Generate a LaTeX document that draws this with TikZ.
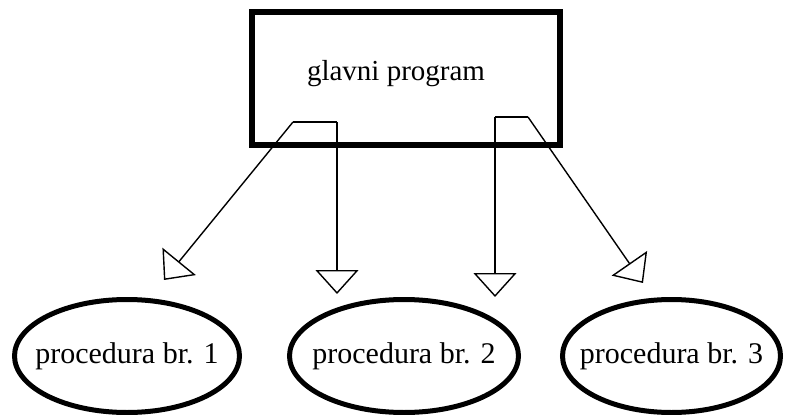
\documentclass[tikz,border=0pt]{standalone}
\usepackage{fontspec}
\setmainfont{Liberation Serif}
\usetikzlibrary{arrows.meta,shapes.geometric}
\begin{document}
\begin{tikzpicture}[x=1pt,y=-1pt,
  mainbox/.style={draw,line width=6pt,rectangle,minimum width=308pt,minimum height=133pt,inner sep=0pt},
  procbox/.style={draw,line width=5pt,ellipse,inner sep=0pt,minimum height=113pt,font=\fontsize{30}{32}\selectfont},
  link/.style={line width=1.4pt,-{Triangle[open,length=24pt,width=43pt,line width=1.4pt]}},
  lbl/.style={font=\fontsize{29}{31}\selectfont,inner sep=0pt,anchor=base}]
\useasboundingbox (0,0) rectangle (785,415);
\node[mainbox] (main) at (406,78.5) {};
\node[lbl] (mainlbl) at (396,80) {glavni program};
\node[procbox,minimum width=225pt] (p1) at (127,356) {\makebox[0pt]{procedura br. 1}};
\node[procbox,minimum width=229pt] (p2) at (404,356) {\makebox[0pt]{procedura br. 2}};
\node[procbox,minimum width=218pt] (p3) at (671.5,356) {\makebox[0pt]{procedura br. 3}};
% fork points inside the main box
\coordinate (fa) at (293,122);
\coordinate (fb) at (337,122);
\coordinate (fc) at (495,117);
\coordinate (fd) at (528,117);
% arrow tips
\coordinate (t1) at (164,280);
\coordinate (t2) at (337,294);
\coordinate (t3) at (495,297);
\coordinate (t4) at (643,283);
\draw[line width=1.4pt] (fa) -- (fb);
\draw[line width=1.4pt] (fc) -- (fd);
\draw[link] (fa) -- (t1);
\draw[link] (fb) -- (t2);
\draw[link] (fc) -- (t3);
\draw[link] (fd) -- (t4);
\end{tikzpicture}
\end{document}
